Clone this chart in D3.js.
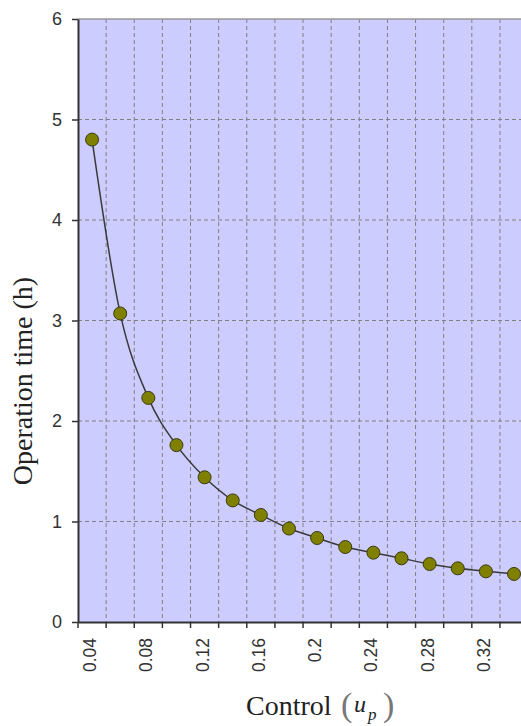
<!DOCTYPE html>
<html>
<head>
<meta charset="utf-8">
<script src="https://cdn.jsdelivr.net/npm/d3@7"></script>
<style>
  html, body { margin: 0; padding: 0; background: #ffffff; overflow: hidden; }
  svg { display: block; }
</style>
</head>
<body>
<script>
// ---- data ----
const categories = ["0.04","0.06","0.08","0.1","0.12","0.14","0.16","0.18","0.2","0.22","0.24","0.26","0.28","0.3","0.32","0.34"];
const operationTime = [4.80, 3.07, 2.23, 1.76, 1.44, 1.21, 1.065, 0.93, 0.836, 0.746, 0.69, 0.634, 0.577, 0.534, 0.504, 0.478];
const yTickValues = [0, 1, 2, 3, 4, 5, 6];
const yTitle = "Operation time (h)";
const xTitle = "Control";

// ---- layout ----
const W = 521, H = 726;
const plotLeft = 78, plotTop = 19, plotBottom = 622;
const step = 28.13;
const plotRight = plotLeft + step * categories.length;

const svg = d3.select("body").append("svg").attr("width", W).attr("height", H);

const x = d3.scaleBand().domain(categories).range([plotLeft, plotRight]).padding(0);
const y = d3.scaleLinear().domain([0, 6]).range([plotBottom, plotTop]);
const bw = x.bandwidth();

// plot background
svg.append("rect")
  .attr("x", plotLeft).attr("y", plotTop)
  .attr("width", plotRight - plotLeft).attr("height", plotBottom - plotTop)
  .attr("fill", "#ccccff");

// grid
const grid = svg.append("g");
grid.selectAll("line.h").data(yTickValues.filter(v => v > 0 && v < 6)).join("line")
  .attr("x1", plotLeft).attr("x2", plotRight)
  .attr("y1", d => y(d)).attr("y2", d => y(d))
  .attr("stroke", "#808080").attr("stroke-width", 1).attr("stroke-dasharray", "4,3");
grid.selectAll("line.v").data(categories.slice(1)).join("line")
  .attr("x1", d => x(d)).attr("x2", d => x(d))
  .attr("y1", plotTop).attr("y2", plotBottom)
  .attr("stroke", "#808080").attr("stroke-width", 1).attr("stroke-dasharray", "4,3");

// top border
svg.append("line")
  .attr("x1", plotLeft).attr("x2", plotRight).attr("y1", plotTop).attr("y2", plotTop)
  .attr("stroke", "#999999").attr("stroke-width", 1.5);

// y axis
const yAxis = svg.append("g").attr("transform", `translate(${plotLeft},0)`)
  .call(d3.axisLeft(y).tickValues(yTickValues).tickFormat(d3.format("d"))
    .tickSize(6).tickSizeOuter(0).tickPadding(10));
yAxis.select(".domain").attr("stroke", "#333333").attr("stroke-width", 2);
yAxis.selectAll(".tick line").attr("stroke", "#333333").attr("stroke-width", 1.5);
yAxis.selectAll(".tick text")
  .attr("font-family", "'Liberation Sans', Arial, sans-serif")
  .attr("font-size", 18).attr("fill", "#333");

// x axis
const xAxis = svg.append("g").attr("transform", `translate(0,${plotBottom})`)
  .call(d3.axisBottom(x).tickSize(6).tickSizeOuter(0)
    .tickFormat((d, i) => (i % 2 === 0 ? d : "")));
xAxis.select(".domain").attr("stroke", "#333333").attr("stroke-width", 2);
xAxis.selectAll(".tick line")
  .attr("transform", `translate(${-bw / 2},0)`)
  .attr("stroke", "#333333").attr("stroke-width", 1.5);
xAxis.selectAll(".tick text")
  .attr("transform", "rotate(-90)")
  .attr("text-anchor", "end")
  .attr("x", -16).attr("y", -2).attr("dy", "0.35em")
  .attr("font-family", "'Liberation Sans', Arial, sans-serif")
  .attr("font-size", 17.5).attr("fill", "#333");

// line
const line = d3.line()
  .x((d, i) => x(categories[i]) + bw / 2)
  .y(d => y(d))
  .curve(d3.curveMonotoneX);
svg.append("path").datum(operationTime)
  .attr("d", line)
  .attr("fill", "none").attr("stroke", "#3a3a3a").attr("stroke-width", 1.5);

// points
svg.selectAll("circle.pt").data(operationTime).join("circle")
  .attr("cx", (d, i) => x(categories[i]) + bw / 2)
  .attr("cy", d => y(d))
  .attr("r", 6.5)
  .attr("fill", "#808000").attr("stroke", "#3a3a10").attr("stroke-width", 1);

// y title
svg.append("text")
  .attr("transform", "translate(32,381) rotate(-90)")
  .attr("text-anchor", "middle")
  .attr("font-family", "'Liberation Serif', 'Times New Roman', serif")
  .attr("font-size", 28).attr("fill", "#222")
  .text(yTitle);

// x title
const xt = svg.append("g").attr("font-family", "'Liberation Serif', 'Times New Roman', serif").attr("fill", "#222");
xt.append("text").attr("x", 246).attr("y", 715).attr("font-size", 28).text(xTitle);
xt.append("text").attr("x", 341).attr("y", 716).attr("font-size", 34).attr("fill", "#777").text("(");
xt.append("text").attr("x", 354).attr("y", 712).attr("font-size", 24).attr("font-style", "italic").text("u");
xt.append("text").attr("x", 368).attr("y", 720).attr("font-size", 17).attr("font-style", "italic").text("p");
xt.append("text").attr("x", 383).attr("y", 716).attr("font-size", 34).attr("fill", "#777").text(")");
</script>
</body>
</html>
